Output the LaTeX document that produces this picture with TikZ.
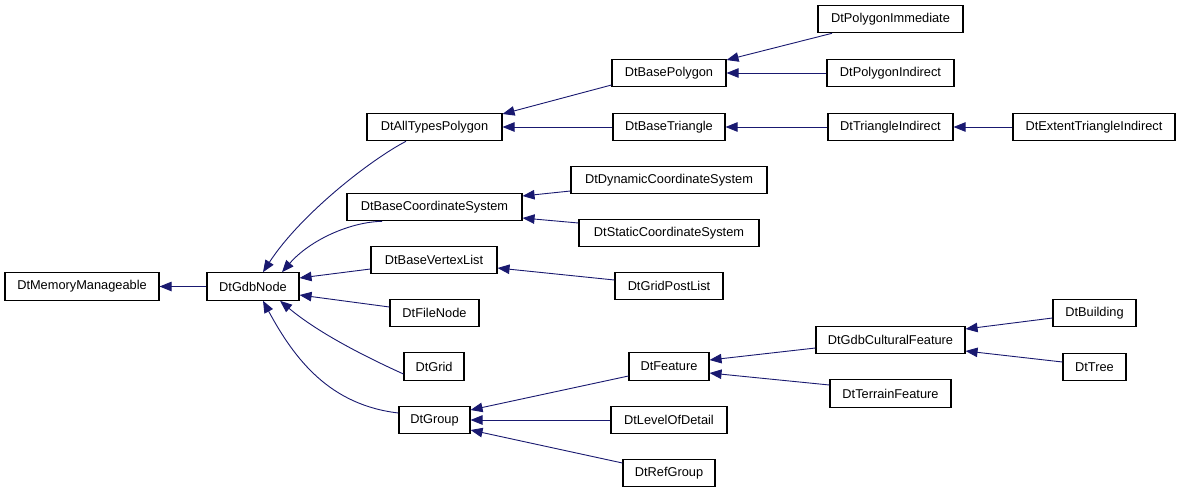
\documentclass[tikz,border=0pt]{standalone}
\usepackage{fontspec}
\setmainfont{Liberation Sans}
\usetikzlibrary{arrows.meta}
\definecolor{edgeblue}{HTML}{191970}
\tikzset{
  cls/.style={draw=black, line width=1.1pt, fill=white, inner sep=0pt, minimum height=27.5pt, font=\fontsize{12.8}{15}\selectfont},
  inh/.style={draw=edgeblue, line width=0.9pt, -{Triangle[length=12pt,width=9.5pt]}}
}
\begin{document}
\begin{tikzpicture}[x=1pt,y=-1pt]
\useasboundingbox[fill=white] (0,0) rectangle (1181,493);
% nodes
\node[cls, minimum width=154pt] (mm)   at (82,286.5)   {DtMemoryManageable};
\node[cls, minimum width=92pt]  (gdb)  at (253,286.5)  {DtGdbNode};
\node[cls, minimum width=135pt] (atp)  at (434.5,127)  {DtAllTypesPolygon};
\node[cls, minimum width=175pt] (bcs)  at (434.5,207)  {DtBaseCoordinateSystem};
\node[cls, minimum width=126pt] (bvl)  at (434,260)    {DtBaseVertexList};
\node[cls, minimum width=89pt]  (fn)   at (434.5,313)  {DtFileNode};
\node[cls, minimum width=60pt]  (grid) at (434,366.5)  {DtGrid};
\node[cls, minimum width=71pt]  (grp)  at (434.5,420)  {DtGroup};
\node[cls, minimum width=114pt] (bp)   at (669,73)     {DtBasePolygon};
\node[cls, minimum width=112pt] (bt)   at (669,127)    {DtBaseTriangle};
\node[cls, minimum width=196pt] (dcs)  at (669,180)    {DtDynamicCoordinateSystem};
\node[cls, minimum width=180pt] (scs)  at (669,233)    {DtStaticCoordinateSystem};
\node[cls, minimum width=108pt] (gpl)  at (669,286)    {DtGridPostList};
\node[cls, minimum width=80pt]  (feat) at (669,366.5)  {DtFeature};
\node[cls, minimum width=116pt] (lod)  at (669,420)    {DtLevelOfDetail};
\node[cls, minimum width=92pt]  (rg)   at (669,473)    {DtRefGroup};
\node[cls, minimum width=145pt] (pim)  at (890.5,19)   {DtPolygonImmediate};
\node[cls, minimum width=127pt] (pin)  at (890.5,73)   {DtPolygonIndirect};
\node[cls, minimum width=125pt] (ti)   at (890.5,127)  {DtTriangleIndirect};
\node[cls, minimum width=162pt] (eti)  at (1094,127)   {DtExtentTriangleIndirect};
\node[cls, minimum width=149pt] (gcf)  at (890.5,340)  {DtGdbCulturalFeature};
\node[cls, minimum width=121pt] (tf)   at (890.5,393.5){DtTerrainFeature};
\node[cls, minimum width=83pt]  (bld)  at (1094.5,313) {DtBuilding};
\node[cls, minimum width=63pt]  (tree) at (1094.5,367) {DtTree};
% edges
\draw[inh] (gdb.west) -- (mm.east);
\draw[inh] ([xshift=-28.5pt]atp.south) .. controls (370,160) and (300,215) .. ([xshift=10pt]gdb.north);
\draw[inh] ([xshift=-52.5pt]bcs.south) .. controls (350,222) and (310,240) .. ([xshift=29pt]gdb.north);
\draw[inh] ([yshift=-9pt]bvl.west) -- ([yshift=8.5pt]gdb.east);
\draw[inh] ([yshift=6pt]fn.west) -- ([yshift=-8.5pt]gdb.east);
\draw[inh] ([yshift=-7.5pt]grid.west) .. controls (355,352) and (315,330) .. ([xshift=27pt]gdb.south);
\draw[inh] ([yshift=7pt]grp.west) .. controls (330,405) and (295,360) .. ([xshift=10pt]gdb.south);
\draw[inh] ([yshift=-12pt]bp.west) -- ([yshift=13pt]atp.east);
\draw[inh] (bt.west) -- (atp.east);
\draw[inh] ([xshift=-58.5pt]pim.south) -- ([yshift=13pt]bp.east);
\draw[inh] (pin.west) -- (bp.east);
\draw[inh] (ti.west) -- (bt.east);
\draw[inh] (eti.west) -- (ti.east);
\draw[inh] ([yshift=-11pt]dcs.west) -- ([yshift=11pt]bcs.east);
\draw[inh] ([yshift=10pt]scs.west) -- ([yshift=-11pt]bcs.east);
\draw[inh] ([yshift=6pt]gpl.west) -- ([yshift=-8pt]bvl.east);
\draw[inh] ([yshift=-9.5pt]feat.west) -- ([yshift=10pt]grp.east);
\draw[inh] (lod.west) -- (grp.east);
\draw[inh] ([yshift=10pt]rg.west) -- ([yshift=-10pt]grp.east);
\draw[inh] ([yshift=-8pt]gcf.west) -- ([yshift=6.5pt]feat.east);
\draw[inh] ([yshift=8.5pt]tf.west) -- ([yshift=-6.5pt]feat.east);
\draw[inh] ([yshift=-5pt]bld.west) -- ([yshift=11pt]gcf.east);
\draw[inh] ([yshift=5pt]tree.west) -- ([yshift=-11pt]gcf.east);
\end{tikzpicture}
\end{document}
